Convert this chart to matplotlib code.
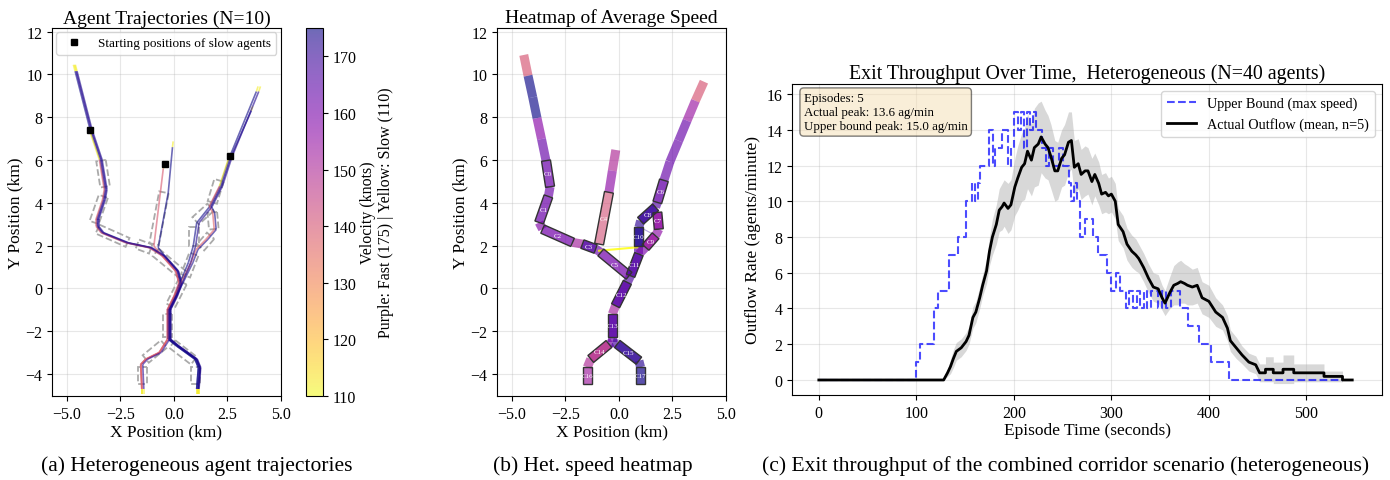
import numpy as np
import matplotlib
matplotlib.use('Agg')
import matplotlib.pyplot as plt
from matplotlib.collections import LineCollection
from matplotlib.patches import Polygon
from matplotlib.colors import Normalize

plt.rcParams['font.family'] = 'serif'
plt.rcParams['font.serif'] = ['Liberation Serif', 'DejaVu Serif']

# --- corridor cells (centerline end points, km) ---
cell_names = ['C%d' % i for i in range(18)]
cell_ends = [((-3.41, 5.97), (-3.22, 4.75)), ((-3.30, 4.30), (-3.73, 3.08)),
             ((-3.57, 2.77), (-2.17, 2.15)), ((-1.71, 2.07), (-1.09, 1.84)),
             ((-0.47, 4.49), (-0.93, 2.07)), ((-0.85, 1.68), (0.47, 0.59)),
             ((2.10, 5.05), (1.79, 4.02)), ((1.79, 3.55), (1.86, 2.77)),
             ((1.71, 3.79), (1.01, 3.16)), ((1.71, 2.46), (1.24, 1.92)),
             ((0.93, 2.85), (0.93, 1.99)), ((0.93, 1.60), (0.54, 0.59)),
             ((0.39, 0.28), (-0.16, -0.81)), ((-0.31, -1.20), (-0.31, -2.29)),
             ((-0.47, -2.60), (-1.32, -3.30)), ((-0.08, -2.60), (0.93, -3.38)),
             ((-1.48, -3.69), (-1.48, -4.47)), ((1.01, -3.69), (1.01, -4.47))]
cell_speed = [162, 162, 161, 166, 141, 161, 163, 155, 170, 154, 173, 166,
              165, 165, 148, 171, 153, 174]
cell_alpha = [0.7, 0.7, 0.7, 0.85, 0.6, 0.7, 0.75, 0.9, 0.9, 0.9, 0.9, 0.9,
              0.9, 0.9, 0.9, 0.85, 0.65, 0.7]

# connecting pieces between cells (no outline)
link_ends = [((-4.45, 10.91), (-4.25, 9.94)), ((-4.25, 9.94), (-4.03, 8.93)),
             ((-4.03, 8.93), (-3.83, 7.96)), ((-3.83, 7.96), (-3.62, 6.98)),
             ((-3.62, 6.98), (-3.41, 5.97)), ((-3.22, 4.75), (-3.30, 4.30)),
             ((-3.73, 3.08), (-3.57, 2.77)), ((-2.17, 2.15), (-1.71, 2.07)),
             ((-1.09, 1.84), (-0.85, 1.68)), ((-0.15, 6.47), (-0.31, 5.50)),
             ((-0.31, 5.50), (-0.47, 4.49)), ((3.97, 9.66), (3.57, 8.77)),
             ((3.57, 8.77), (3.18, 7.84)), ((3.18, 7.84), (2.79, 6.90)),
             ((2.79, 6.90), (2.38, 5.92)), ((2.38, 5.92), (2.10, 5.05)),
             ((1.79, 4.02), (1.71, 3.79)), ((1.86, 2.77), (1.71, 2.46)),
             ((1.01, 3.16), (0.93, 2.85)), ((0.93, 1.99), (0.93, 1.60)),
             ((1.24, 1.92), (0.93, 1.60)), ((0.54, 0.59), (0.39, 0.28)),
             ((-0.16, -0.81), (-0.31, -1.20)), ((-0.31, -2.29), (-0.31, -2.52)),
             ((-0.31, -2.52), (-0.47, -2.60)), ((-0.31, -2.52), (-0.08, -2.60)),
             ((-1.32, -3.30), (-1.48, -3.69)), ((0.93, -3.38), (1.01, -3.69))]
link_speed = [140, 175, 175, 157, 163, 162, 158, 152, 162, 150, 156, 140,
              154, 163, 163, 163, 166, 156, 171, 166, 160, 167, 152, 163,
              160, 168, 150, 172]

# --- agent trajectories (panel a) ---
left_branch = [(-4.70, 10.45), (-4.62, 10.15), (-3.92, 7.42), (-3.45, 6.02),
               (-3.22, 4.62), (-3.30, 4.15), (-3.61, 3.22), (-3.61, 2.91),
               (-3.37, 2.60), (-2.21, 2.13), (-1.12, 1.90)]
mid_fast = [(-0.11, 6.87), (-0.14, 6.60), (-0.34, 4.46), (-0.81, 1.90)]
mid_slow = [(-0.42, 5.83), (-0.45, 5.60), (-0.89, 1.98)]
trunk_upper = [(-0.50, 1.51), (0.12, 0.81), (0.28, 0.26)]
right_branch = [(3.93, 9.44), (3.85, 9.20), (2.61, 6.17), (2.15, 4.77), (1.68, 3.84)]
right_second = [(3.62, 8.51), (3.55, 8.30), (2.61, 6.17), (2.15, 4.77), (1.68, 3.84)]
fork_inner = [(1.06, 3.06), (0.90, 1.98), (0.67, 1.20), (0.28, 0.26)]
fork_outer = [(1.84, 3.53), (1.91, 2.75), (1.52, 2.29), (1.06, 1.82), (0.82, 1.20), (0.36, 0.26)]
trunk_lower = [(0.05, -0.36), (-0.26, -0.98), (-0.26, -2.38)]
exit_right = [(0.12, -2.69), (0.98, -3.31), (1.14, -3.70), (1.06, -4.70), (1.06, -4.92)]
exit_left = [(-0.65, -3.00), (-1.28, -3.31), (-1.51, -3.55), (-1.46, -4.70), (-1.46, -4.92)]

agent_paths = [left_branch + trunk_upper + trunk_lower + exit_right,
               left_branch + trunk_upper + trunk_lower + exit_right,
               left_branch[2:] + trunk_upper + trunk_lower + exit_left,
               mid_fast + trunk_upper + trunk_lower + exit_right,
               mid_slow + trunk_upper + trunk_lower + exit_left,
               right_branch + fork_inner + trunk_lower + exit_right,
               right_second + fork_outer + trunk_lower + exit_right,
               right_branch[2:] + fork_outer + trunk_lower + exit_left,
               right_branch + fork_inner + trunk_lower + exit_right,
               left_branch + trunk_upper + trunk_lower + exit_left]
agent_dx = [0.0, 0.09, -0.04, 0.07, -0.05, 0.0, 0.06, -0.03, 0.11, 0.05]
agent_speed = [175, 174, 138, 175, 139, 175, 174, 137, 173, 172]
slow_starts = [(-3.92, 7.42), (-0.42, 5.83), (2.61, 6.17)]

# --- exit throughput (panel c) ---
ub_t = [0, 100, 104, 118, 122, 134, 143, 151, 157, 160, 163, 165, 175, 179, 181, 188, 194, 197,
        200, 204, 207, 210, 213, 217, 220, 223, 229, 233, 236, 240, 246, 250, 257, 259, 262, 265,
        268, 273, 281, 286, 295, 300, 305, 309, 315, 318, 322, 326, 329, 333, 337, 341, 348, 352,
        356, 361, 370, 379, 390, 402, 421, 537]
ub_v = [0, 1, 2, 4, 5, 7, 8, 10, 11, 10, 11, 12, 14, 12, 13, 14, 12, 13,
        15, 14, 15, 13, 15, 14, 15, 14, 13, 12, 13, 12, 13, 12, 11, 10, 11, 10,
        8, 9, 8, 7, 6, 5, 6, 5, 4, 5, 4, 5, 4, 5, 4, 5, 4, 5,
        4, 5, 4, 3, 2, 1, 0, 0]
mean_t = [0, 128, 132, 135, 138, 141, 146, 151, 154, 158, 161, 165, 168, 172, 175, 178, 182, 185,
          188, 190, 194, 197, 201, 204, 208, 211, 214, 218, 221, 225, 228, 232, 235, 238, 242, 245,
          249, 252, 256, 259, 262, 266, 269, 273, 276, 280, 283, 287, 290, 294, 297, 300, 304, 307,
          312, 316, 321, 325, 328, 333, 338, 343, 348, 352, 355, 360, 364, 368, 371, 375, 378, 383,
          388, 393, 400, 407, 414, 419, 422, 428, 434, 441, 448, 452, 458, 458, 466, 466, 476, 476,
          487, 487, 518, 518, 537, 537, 547]
mean_v = [0, 0, 0.4, 0.75, 1.2, 1.6, 1.8, 2.15, 2.5, 3.5, 3.8, 4.6, 5.3, 6.1, 7.2, 8.0, 8.7, 9.5,
          9.7, 9.9, 9.6, 9.8, 10.8, 11.3, 11.9, 12.1, 12.8, 12.3, 13.0, 13.2, 13.6, 13.2, 13.0, 12.5,
          11.7, 11.7, 12.4, 12.6, 13.3, 13.4, 11.9, 12.1, 11.5, 11.7, 11.7, 11.1, 11.5, 11.0, 10.4,
          10.5, 10.3, 10.4, 10.0, 8.7, 8.3, 7.6, 7.2, 7.0, 6.8, 6.3, 5.7, 5.2, 5.1, 4.6, 4.3, 4.9,
          5.3, 5.4, 5.5, 5.4, 5.3, 5.2, 5.3, 4.6, 4.4, 3.8, 3.5, 2.9, 2.2, 1.8, 1.4, 1.0, 0.85, 0.4,
          0.4, 0.6, 0.6, 0.4, 0.4, 0.6, 0.6, 0.4, 0.4, 0.2, 0.2, 0.0, 0.0]
mean_sd = [0, 0, 0.2, 0.4, 0.5, 0.5, 0.5, 0.5, 0.5, 0.6, 0.6, 0.6, 0.6, 0.7, 0.8, 1.0, 1.1, 1.2,
           1.3, 1.3, 1.4, 1.4, 1.6, 1.8, 1.9, 2.0, 2.1, 2.0, 2.2, 2.3, 2.0, 1.9, 1.8, 1.8, 1.7, 1.6,
           1.6, 1.7, 1.7, 1.6, 1.5, 1.4, 1.4, 1.4, 1.3, 1.3, 1.2, 1.2, 1.1, 1.1, 1.0, 1.0, 1.0, 0.9,
           0.9, 0.9, 0.9, 0.9, 0.8, 0.8, 0.8, 0.8, 0.8, 0.7, 0.7, 0.9, 1.1, 1.2, 1.2, 1.1, 1.1, 1.0,
           1.0, 0.9, 0.9, 0.8, 0.7, 0.7, 0.6, 0.6, 0.5, 0.5, 0.5, 0.5, 0.5, 0.7, 0.7, 0.6, 0.6, 0.8,
           0.8, 0.5, 0.5, 0.3, 0.3, 0.0, 0.0]

norm = Normalize(110, 175)
cmap = plt.get_cmap('plasma_r')


def strip(ax, p0, p1, w, **kw):
    p0, p1 = np.array(p0), np.array(p1)
    d = p1 - p0
    n = np.array([-d[1], d[0]]) / np.hypot(*d) * w / 2
    ax.add_patch(Polygon([p0 + n, p1 + n, p1 - n, p0 - n], closed=True, **kw))


def map_axes(ax, title):
    ax.set_xlim(-5.7, 5.0)
    ax.set_ylim(-5.03, 12.17)
    ax.set_xticks([-5.0, -2.5, 0.0, 2.5, 5.0])
    ax.set_yticks(range(-4, 13, 2))
    ax.grid(True, alpha=0.3)
    ax.set_title(title, fontsize=14, pad=4)
    ax.set_xlabel('X Position (km)', fontsize=12.5, labelpad=1)
    ax.set_ylabel('Y Position (km)', fontsize=12.5, labelpad=1)
    ax.tick_params(labelsize=11.5)


fig = plt.figure(figsize=(13.9, 4.81), dpi=100)
W, H = 1390, 481
ax_a = fig.add_axes([52 / W, 84 / H, 229 / W, 368 / H])
cax = fig.add_axes([306 / W, 84 / H, 17 / W, 368 / H])
ax_b = fig.add_axes([497 / W, 84 / H, 229 / W, 368 / H])
ax_c = fig.add_axes([792 / W, 85 / H, 590 / W, 311 / H])

# (a) trajectories
for p0, p1 in cell_ends:
    strip(ax_a, p0, p1, 0.45, fill=False, edgecolor='#aaaaaa', linestyle='--', lw=1.3, zorder=2)
lc = None
for path, dx, spd in zip(agent_paths, agent_dx, agent_speed):
    pts = np.array(path) + [dx, 0]
    segs = np.stack([pts[:-1], pts[1:]], axis=1)
    speeds = [112] + [spd] * (len(segs) - 2) + [112]
    lc = LineCollection(segs, cmap='plasma_r', norm=norm, linewidths=1.2, alpha=0.6, zorder=3)
    lc.set_array(np.array(speeds, dtype=float))
    ax_a.add_collection(lc)
sx, sy = zip(*slow_starts)
ax_a.plot(sx, sy, 's', color='black', ms=5, ls='none', zorder=5,
          label='Starting positions of slow agents')
ax_a.legend(loc='upper left', fontsize=9.5, borderaxespad=0.3)
map_axes(ax_a, 'Agent Trajectories (N=10)')

cb = fig.colorbar(lc, cax=cax)
cb.set_ticks([110, 120, 130, 140, 150, 160, 170])
cb.ax.tick_params(labelsize=11.5)
cb.set_label('Velocity (knots)\nPurple: Fast (175) | Yellow: Slow (110)', fontsize=11.5, labelpad=2)

# (b) heatmap of average speed
for (p0, p1), spd in zip(link_ends, link_speed):
    strip(ax_b, p0, p1, 0.42, facecolor=cmap(norm(spd)), edgecolor='none', alpha=0.65, zorder=2)
for name, (p0, p1), spd, al in zip(cell_names, cell_ends, cell_speed, cell_alpha):
    strip(ax_b, p0, p1, 0.42, facecolor=cmap(norm(spd)), alpha=al, zorder=3)
    strip(ax_b, p0, p1, 0.42, fill=False, edgecolor='#333333', lw=1.0, zorder=4)
    ax_b.text((p0[0] + p1[0]) / 2, (p0[1] + p1[1]) / 2, name, color='white',
              fontsize=5, ha='center', va='center', zorder=5)
ax_b.plot([-0.93, 0.85], [1.76, 1.92], color='yellow', lw=1.5, alpha=0.8, zorder=2)
ax_b.plot([1.0, 1.75], [2.85, 2.45], color='#b8a8e0', lw=0.8, zorder=2)
map_axes(ax_b, 'Heatmap of Average Speed')

# (c) exit throughput
mt, mv, sd = np.array(mean_t), np.array(mean_v), np.array(mean_sd)
ax_c.fill_between(mt, mv - sd, mv + sd, color='gray', alpha=0.3, lw=0)
ax_c.plot(ub_t, ub_v, 'b--', drawstyle='steps-post', alpha=0.7, lw=1.5,
          label='Upper Bound (max speed)')
ax_c.plot(mt, mv, 'k-', lw=2, label='Actual Outflow (mean, n=5)')
ax_c.set_xlim(-27.5, 577.5)
ax_c.set_ylim(-0.84, 16.56)
ax_c.set_xticks(range(0, 501, 100))
ax_c.set_yticks(range(0, 17, 2))
ax_c.grid(True, alpha=0.3)
ax_c.tick_params(labelsize=11.5)
ax_c.set_title('Exit Throughput Over Time,  Heterogeneous (N=40 agents)', fontsize=14.3, pad=4)
ax_c.set_xlabel('Episode Time (seconds)', fontsize=12.5, labelpad=1)
ax_c.set_ylabel('Outflow Rate (agents/minute)', fontsize=12.5)
ax_c.legend(loc='upper right', fontsize=10.3)
ax_c.text(0.02, 0.975, 'Episodes: 5\nActual peak: 13.6 ag/min\nUpper bound peak: 15.0 ag/min',
          transform=ax_c.transAxes, fontsize=9.3, va='top', ha='left', linespacing=1.25,
          bbox=dict(boxstyle='round', facecolor='wheat', alpha=0.5))

# captions
fig.text(197 / W, 15 / H, '(a) Heterogeneous agent trajectories', fontsize=15.5, ha='center', va='center')
fig.text(593 / W, 15 / H, '(b) Het. speed heatmap', fontsize=15.5, ha='center', va='center')
fig.text(1066 / W, 15 / H, '(c) Exit throughput of the combined corridor scenario (heterogeneous)',
         fontsize=15.5, ha='center', va='center')

fig.savefig('out.png', dpi=100)
